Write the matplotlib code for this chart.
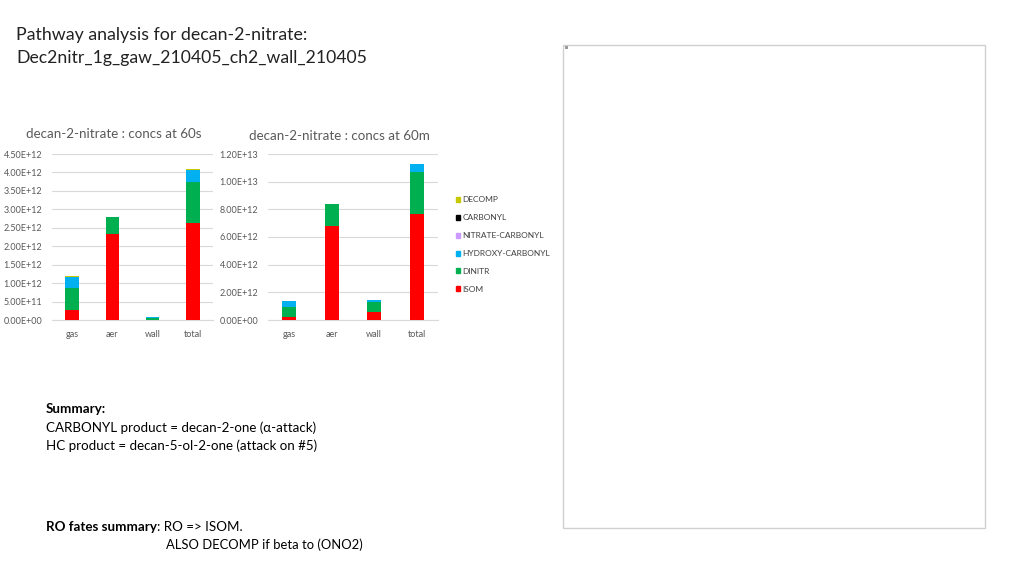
import numpy as np
import matplotlib
matplotlib.use("Agg")
import matplotlib.pyplot as plt
from matplotlib.patches import Patch, Rectangle
from matplotlib.ticker import FuncFormatter

plt.rcParams['font.family'] = ['Lato', 'DejaVu Sans']

W, H = 1024, 576

places = ["gas", "aer", "wall", "total"]
series = ["ISOM", "DINITR", "HYDROXY-CARBONYL", "NITRATE-CARBONYL", "CARBONYL", "DECOMP"]
colours = ["#ff0000", "#00b050", "#00b0f0", "#cc99ff", "#000000", "#c8c800"]

# concs at 60s (molecules), bottom to top
isom_60s = [2.8e11, 2.34e12, 0.0, 2.64e12]
dinitr_60s = [6.0e11, 4.6e11, 6.0e10, 1.11e12]
hc_60s = [2.8e11, 0.0, 2.0e10, 3.1e11]
nc_60s = [0.0, 0.0, 0.0, 0.0]
carb_60s = [0.0, 0.0, 0.0, 0.0]
decomp_60s = [4.0e10, 0.0, 0.0, 3.5e10]

# concs at 60m
isom_60m = [2.4e11, 6.77e12, 6.0e11, 7.65e12]
dinitr_60m = [7.2e11, 1.59e12, 7.0e11, 3.05e12]
hc_60m = [4.4e11, 2.0e10, 1.2e11, 5.6e11]
nc_60m = [0.0, 0.0, 0.0, 0.0]
carb_60m = [0.0, 0.0, 0.0, 0.0]
decomp_60m = [0.0, 0.0, 0.0, 0.0]

ticks_60s = np.arange(0, 4.5e12 + 1, 5e11)
ticks_60m = np.arange(0, 1.2e13 + 1, 2e12)


def px_axes(fig, x0, y0, x1, y1):
    return fig.add_axes([x0 / W, 1 - y1 / H, (x1 - x0) / W, (y1 - y0) / H])


def stacked(ax, data, ticks):
    x = np.arange(len(places))
    bottom = np.zeros(len(places))
    for vals, c, name in zip(data, colours, series):
        ax.bar(x, vals, 0.33, bottom=bottom, color=c, label=name, zorder=3)
        bottom += np.array(vals)
    ax.set_xlim(-0.5, len(places) - 0.5)
    ax.set_ylim(0, ticks[-1])
    ax.set_yticks(ticks)
    ax.yaxis.set_major_formatter(FuncFormatter(lambda v, p: f"{v:.2E}"))
    ax.set_xticks(x)
    ax.set_xticklabels(places)
    ax.grid(axis='y', color='#d9d9d9', lw=0.8, zorder=0)
    for s in ['top', 'right', 'left']:
        ax.spines[s].set_visible(False)
    ax.spines['bottom'].set_color('#d9d9d9')
    ax.tick_params(length=0, labelsize=6.5, colors='#595959', pad=7)
    ax.tick_params(axis='x', pad=7)


fig = plt.figure(figsize=(W / 100, H / 100), dpi=100)
fig.patch.set_facecolor('white')

ax1 = px_axes(fig, 52, 154, 213, 320)
stacked(ax1, [isom_60s, dinitr_60s, hc_60s, nc_60s, carb_60s, decomp_60s], ticks_60s)
fig.text(114 / W, 1 - 134 / H, "decan-2-nitrate : concs at 60s", fontsize=9.6,
         color='#595959', ha='center', va='center')

ax2 = px_axes(fig, 268, 154, 438, 320)
stacked(ax2, [isom_60m, dinitr_60m, hc_60m, nc_60m, carb_60m, decomp_60m], ticks_60m)
fig.text(339 / W, 1 - 136 / H, "decan-2-nitrate : concs at 60m", fontsize=9.6,
         color='#595959', ha='center', va='center')

handles = [Patch(color=c, label=n) for c, n in zip(colours, series)][::-1]
fig.legend(handles=handles, loc='upper left', bbox_to_anchor=(448 / W, 1 - 189 / H),
           frameon=False, fontsize=6, handlelength=0.55, handleheight=0.55,
           handletextpad=0.25, labelspacing=1.3, labelcolor='#404040')

# empty picture frame on the right
fig.patches.append(Rectangle((563 / W, 1 - 528 / H), (985 - 563) / W, (528 - 45) / H,
                             transform=fig.transFigure, fill=False,
                             edgecolor='#d0d0d0', lw=1))
fig.patches.append(Rectangle((565 / W, 1 - 49 / H), 3 / W, 3 / H,
                             transform=fig.transFigure, color='#9a9a9a', lw=0))

fig.text(16 / W, 1 - 35 / H, "Pathway analysis for decan-2-nitrate:",
         fontsize=12.8, va='center', color='#222222')
fig.text(16 / W, 1 - 58 / H, "Dec2nitr_1g_gaw_210405_ch2_wall_210405",
         fontsize=12.7, va='center', color='#222222')

fig.text(46 / W, 1 - 409 / H, "Summary:", fontsize=9.6, fontweight='bold', va='center')
fig.text(46 / W, 1 - 428 / H, "CARBONYL product = decan-2-one (\u03b1-attack)",
         fontsize=9.6, va='center')
fig.text(46 / W, 1 - 446 / H, "HC product = decan-5-ol-2-one (attack on #5)",
         fontsize=9.6, va='center')

ro = fig.text(46 / W, 1 - 527 / H, "RO fates summary", fontsize=9.6,
              fontweight='bold', va='center')
fig.add_artist(plt.Annotation(": RO => ISOM.", xy=(1, 0.5), xycoords=ro,
                              va='center', ha='left', fontsize=9.6))
fig.text(166 / W, 1 - 545 / H, "ALSO DECOMP if beta to (ONO2)", fontsize=9.4, va='center')

fig.savefig("out.png", dpi=100, facecolor='white')
